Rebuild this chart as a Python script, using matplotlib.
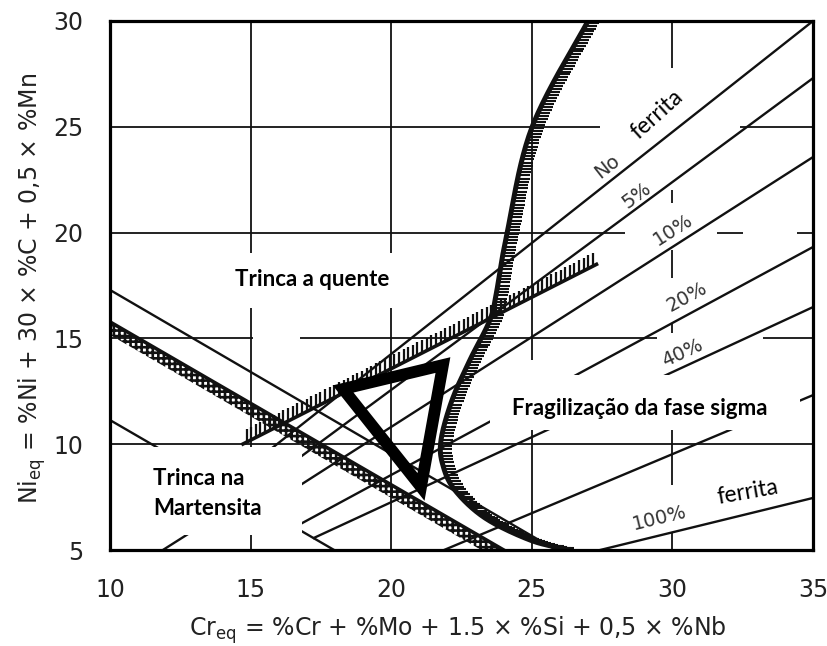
import numpy as np
import matplotlib.pyplot as plt
from matplotlib.patches import Rectangle, Polygon
from matplotlib.collections import LineCollection

# Schaeffler diagram with problem zones (Cr_eq on x, Ni_eq on y)

# descending boundary lines
upper_x = [10, 25.86]
upper_y = [17.29, 5.0]
mart_x = [10, 24.0]
mart_y = [15.78, 5.0]
lower_x = [10, 17.97]
lower_y = [11.14, 5.0]

# iso-ferrite lines (start -> end)
ferrite_pct = ['0', '5', '10', '20', '40', '80', '100']
ferrite_x0 = [14.05, 14.80, 15.44, 16.58, 17.25, 21.88, 27.43]
ferrite_y0 = [8.02, 7.46, 6.94, 6.09, 5.57, 5.0, 5.0]
ferrite_x1 = [35, 35, 35, 35, 35, 35, 35]
ferrite_y1 = [30.0, 27.3, 23.57, 19.32, 16.48, 12.32, 7.46]

# short martensite/ferrite boundary at bottom left
mf_x = [11.88, 14.80]
mf_y = [5.0, 7.46]

# hot cracking boundary (hatched)
hot_x = [14.73, 27.3]
hot_y = [10.01, 18.5]

# sigma embrittlement boundary (hatched curve)
sigma_x = [27.0, 25.01, 24.12, 23.76, 23.51, 22.80, 22.16, 21.77, 21.84, 22.27, 23.34, 24.94, 26.18]
sigma_y = [30.0, 24.99, 19.98, 17.29, 15.87, 13.98, 12.07, 10.18, 9.0, 7.82, 6.51, 5.47, 5.05]

# safe zone triangle
tri_x = [18.29, 21.84, 21.06]
tri_y = [12.61, 13.74, 7.98]

ticks = [10, 15, 20, 25, 30, 35]
yticks = [5, 10, 15, 20, 25, 30]

# grid pieces that survive in the scanned figure
vgrid = {15: [(5, 30)], 20: [(5, 30)], 25: [(5, 10.67), (13.98, 30)],
         30: [(27.78, 30), (21.4, 22.01), (17.85, 19.18), (15.26, 15.73), (8.07, 10.67), (5, 5.8)]}
hgrid = {10: [(10, 35)], 15: [(10, 15.09), (16.76, 29.45), (33.22, 35)],
         20: [(10, 28.31), (31.59, 32.51), (34.43, 35)], 25: [(10, 27.43), (32.40, 35)]}

din = ['DejaVu Sans']
cal = ['Lato', 'Open Sans', 'DejaVu Sans']
ink = '#111111'

fig = plt.figure(figsize=(8.28, 6.46), dpi=100)
ax = fig.add_axes([110 / 828, 1 - 550 / 646, 703 / 828, 529 / 646])
ax.set_xlim(10, 35)
ax.set_ylim(5, 30)

for x, segs in vgrid.items():
    for a, b in segs:
        ax.plot([x, x], [a, b], color=ink, lw=1.3, zorder=1, solid_capstyle='butt')
for y, segs in hgrid.items():
    for a, b in segs:
        ax.plot([a, b], [y, y], color=ink, lw=1.3, zorder=1, solid_capstyle='butt')

lw = 1.7
ax.plot(upper_x, upper_y, color=ink, lw=lw, zorder=2)
ax.plot(lower_x, lower_y, color=ink, lw=lw, zorder=2)
ax.plot(mart_x, mart_y, color=ink, lw=2.6, zorder=2)
ax.plot(mf_x, mf_y, color=ink, lw=lw, zorder=2)
for i in range(len(ferrite_pct)):
    ax.plot([ferrite_x0[i], ferrite_x1[i]], [ferrite_y0[i], ferrite_y1[i]],
            color=ink, lw=lw, zorder=2)

toD = ax.transData
fromD = toD.inverted()

# crossed band under the martensite line
p = toD.transform(np.column_stack([mart_x, mart_y]))
band = np.vstack([p, p[::-1] + [0, -13]])
band_d = fromD.transform(band)
plt.rcParams['hatch.linewidth'] = 1.9
ax.add_patch(Polygon(band_d, closed=True, facecolor='none', edgecolor=ink,
                     hatch='+++', lw=0, zorder=2))

# hot cracking line with vertical ticks above
ax.plot(hot_x, hot_y, color=ink, lw=2.6, zorder=2)
p = toD.transform(np.column_stack([hot_x, hot_y]))
n = int(np.hypot(*(p[1] - p[0])) / 5.2)
segs = []
for t in np.linspace(0.01, 0.99, n):
    q = p[0] + t * (p[1] - p[0])
    segs.append(fromD.transform([q, q + [0, 13]]))
ax.add_collection(LineCollection(segs, colors=ink, lw=1.6, zorder=2))


def smooth(P, n=24):
    P = np.vstack([P[0], P, P[-1]])
    out = []
    for i in range(1, len(P) - 2):
        p0, p1, p2, p3 = P[i - 1], P[i], P[i + 1], P[i + 2]
        t = np.linspace(0, 1, n, endpoint=False)[:, None]
        out.append(0.5 * (2 * p1 + (-p0 + p2) * t + (2 * p0 - 5 * p1 + 4 * p2 - p3) * t ** 2
                          + (-p0 + 3 * p1 - 3 * p2 + p3) * t ** 3))
    out.append(P[-2][None])
    return np.vstack(out)


sp = smooth(toD.transform(np.column_stack([sigma_x, sigma_y])))
sd = fromD.transform(sp)
ax.plot(sd[:, 0], sd[:, 1], color=ink, lw=3.6, zorder=2)
arc = np.concatenate([[0], np.cumsum(np.hypot(*np.diff(sp, axis=0).T))])
segs = []
for s in np.arange(2, arc[-1] - 2, 3.3):
    q = np.array([np.interp(s, arc, sp[:, 0]), np.interp(s, arc, sp[:, 1])])
    segs.append(fromD.transform([q, q + [12, 0]]))
ax.add_collection(LineCollection(segs, colors=ink, lw=1.5, zorder=2))

# triangle
ax.add_patch(Polygon(np.column_stack([tri_x, tri_y]), closed=True, fill=False,
                     edgecolor='black', lw=8.5, joinstyle='miter', zorder=3))

# white label boxes
ax.add_patch(Rectangle((14.20, 16.44), 6.04, 2.60, facecolor='white', edgecolor='none', zorder=4))
ax.add_patch(Rectangle((10.07, 5.71), 6.76, 4.16, facecolor='white', edgecolor='none', zorder=4))
ax.add_patch(Rectangle((23.51, 10.67), 11.03, 2.60, facecolor='white', edgecolor='none', zorder=4))

bold = dict(family=cal, weight='bold', fontsize=16, color='black', zorder=5)
ax.text(17.18, 17.76, 'Trinca a quente', ha='center', va='center', **bold)
ax.text(11.53, 8.40, 'Trinca na', ha='left', va='center', **bold)
ax.text(11.53, 6.98, 'Martensita', ha='left', va='center', **bold)
ax.text(28.85, 11.71, 'Fragilização da fase sigma', ha='center', va='center', **bold)

lab = dict(family=din, fontsize=14, color='#333333', ha='center', va='center',
           rotation_mode='anchor', zorder=5)
ax.text(27.67, 23.1, 'No', rotation=38, **lab)
ax.text(28.74, 21.78, '5%', rotation=36.5, **lab)
ax.text(30.02, 20.12, '10%', rotation=32.6, **lab)
ax.text(30.52, 16.96, '20%', rotation=28.4, **lab)
ax.text(30.34, 14.31, '40%', rotation=24.8, **lab)
ax.text(29.56, 6.51, '100%', rotation=13.7, **lab)
ax.text(29.45, 25.56, 'ferrita', family=cal, fontsize=16.5, rotation=42,
        ha='center', va='center', rotation_mode='anchor', zorder=5)
ax.text(32.69, 7.74, 'ferrita', family=cal, fontsize=16.5, rotation=10,
        ha='center', va='center', rotation_mode='anchor', zorder=5)

ax.set_xticks(ticks)
ax.set_yticks(yticks)
ax.set_xticklabels([str(v) for v in ticks], family=din, fontsize=17, color='#222222')
ax.set_yticklabels([str(v) for v in yticks], family=din, fontsize=17, color='#222222')
ax.tick_params(length=0)
ax.tick_params(axis='x', pad=20)
ax.tick_params(axis='y', pad=19)
for s in ax.spines.values():
    s.set_linewidth(2.3)
    s.set_color('black')
    s.set_zorder(10)

fig.text(32 / 828, 1 - 288 / 646, r'Ni$_\mathregular{eq}$ = %Ni + 30 × %C + 0,5 × %Mn',
         rotation=90, ha='center', va='center', family=din, fontsize=17, color='#222222')
fig.text(458 / 828, 1 - 630 / 646, r'Cr$_\mathregular{eq}$ = %Cr + %Mo + 1.5 × %Si + 0,5 × %Nb',
         ha='center', va='center', family=din, fontsize=17, color='#222222')

fig.savefig('out.png', dpi=100)
